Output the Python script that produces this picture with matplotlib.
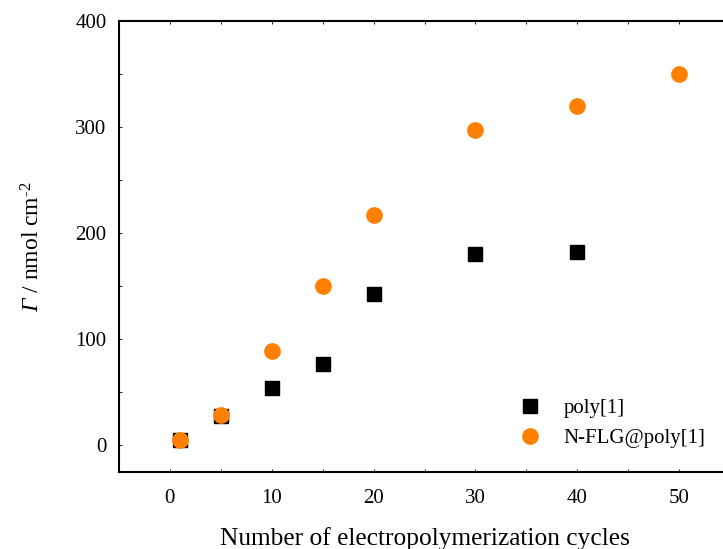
import numpy as np
import matplotlib
matplotlib.use('Agg')
import matplotlib.pyplot as plt

plt.rcParams['font.family'] = ['Liberation Serif', 'DejaVu Serif']
plt.rcParams['mathtext.fontset'] = 'custom'
plt.rcParams['mathtext.rm'] = 'Liberation Serif'
plt.rcParams['mathtext.it'] = 'Liberation Serif:italic'
plt.rcParams['mathtext.sf'] = 'Liberation Serif:italic'

# данные
cycles_poly = [1, 5, 10, 15, 20, 30, 40]
gamma_poly = [5, 28, 54, 77, 143, 180, 182]

cycles_nflg = [1, 5, 10, 15, 20, 30, 40, 50]
gamma_nflg = [5, 29, 89, 150, 217, 297, 320, 350]

fig = plt.figure(figsize=(7.23, 5.49), dpi=100)
ax = fig.add_axes([119 / 723, 77 / 549, 611 / 723, 451 / 549])

ax.plot(cycles_poly, gamma_poly, 's', color='black', ms=10, label='poly[1]')
ax.plot(cycles_nflg, gamma_nflg, 'o', color='#ff8000', ms=11, label='N-FLG@poly[1]')

ax.set_xlim(-5, 55)
ax.set_ylim(-25, 400)
ax.set_xticks([0, 10, 20, 30, 40, 50])
ax.set_xticks([-5, 5, 15, 25, 35, 45], minor=True)
ax.set_yticks([0, 100, 200, 300, 400])
ax.set_yticks([50, 150, 250, 350], minor=True)

ax.tick_params(which='both', direction='out', labelsize=15, width=1.2)
ax.tick_params(which='major', length=6.5)
ax.tick_params(which='minor', length=4)
ax.tick_params(axis='x', which='major', pad=12)
ax.tick_params(axis='y', which='major', pad=9)
ax.tick_params(top=True, which='both', direction='in', length=2, width=0.6)
for s in ax.spines.values():
    s.set_linewidth(1.5)
for lbl in ax.get_xticklabels() + ax.get_yticklabels():
    lbl.set_fontfamily('Liberation Serif')

ax.set_xlabel('Number of electropolymerization cycles', fontsize=18.3, labelpad=14)
ax.set_ylabel('$\\mathsf{Γ}$ / nmol cm$^{\\mathrm{‐2}}$', fontsize=17, labelpad=22)

ax.legend(loc='lower right', bbox_to_anchor=(0.99, 0.012), frameon=False, fontsize=15,
          handletextpad=0.6, labelspacing=0.5)

plt.savefig('out.png', dpi=100)
